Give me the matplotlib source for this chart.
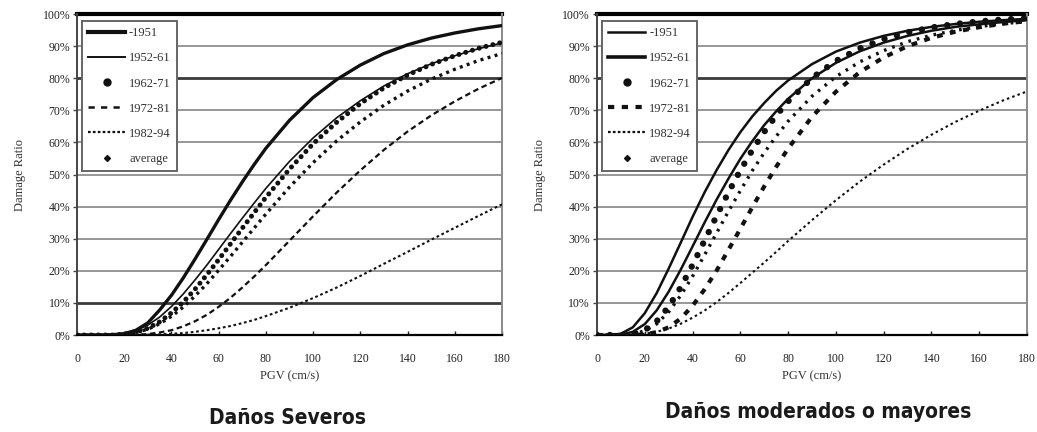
import matplotlib
matplotlib.use("Agg")
import matplotlib.pyplot as plt
from matplotlib.lines import Line2D
from matplotlib.ticker import FuncFormatter, MultipleLocator

# PGV (cm/s) at which the fragility curves are sampled
pgv = [0, 5, 10, 15, 20, 25, 30, 35, 40, 45, 50, 55, 60, 65, 70, 75, 80,
       90, 100, 110, 120, 130, 140, 150, 160, 170, 180]

# Damage ratio (%) - severe damage
sev_1951 = [0, 0, 0, 0.1, 0.4, 1.5, 3.8, 7.8, 12.4, 17.8, 23.7, 29.8, 36.0, 42.0, 47.7, 53.1, 58.2,
            66.9, 74.0, 79.6, 84.1, 87.7, 90.4, 92.5, 94.1, 95.4, 96.4]
sev_1952_61 = [0, 0, 0, 0.1, 0.5, 1.4, 3.1, 5.6, 8.9, 12.8, 17.2, 21.8, 26.7, 31.6, 36.4, 41.1, 45.7,
               54.1, 61.4, 67.7, 73.0, 77.6, 81.4, 84.5, 87.0, 89.2, 91.0]
sev_1962_71 = [0, 0, 0, 0, 0.3, 0.9, 2.1, 4.1, 6.9, 10.3, 14.3, 18.8, 23.5, 28.4, 33.3, 38.1, 42.9,
               51.7, 59.6, 66.3, 72.1, 77.0, 81.0, 84.3, 87.0, 89.3, 91.2]
sev_1972_81 = [0, 0, 0, 0, 0, 0.1, 0.3, 0.8, 1.5, 2.7, 4.3, 6.3, 8.8, 11.6, 14.8, 18.2, 21.8,
               29.4, 37.0, 44.4, 51.3, 57.7, 63.4, 68.4, 72.8, 76.7, 80.1]
sev_1982_94 = [0, 0, 0, 0, 0, 0, 0.1, 0.2, 0.4, 0.6, 1.0, 1.5, 2.1, 2.8, 3.7, 4.7, 5.9,
               8.5, 11.5, 14.8, 18.4, 22.2, 25.9, 29.7, 33.4, 37.1, 40.7]
sev_average = [0, 0, 0, 0, 0.2, 0.8, 1.8, 3.5, 5.8, 8.7, 12.2, 16.0, 20.2, 24.5, 28.9, 33.3, 37.7,
               46.1, 53.7, 60.5, 66.4, 71.6, 76.0, 79.7, 82.8, 85.5, 87.7]

# Damage ratio (%) - moderate or greater damage
mod_1951 = [0, 0, 0.4, 2.4, 6.8, 13.1, 20.7, 28.7, 36.8, 44.4, 51.3, 57.6, 63.2, 68.1, 72.3, 76.1, 79.3,
            84.4, 88.3, 91.1, 93.2, 94.8, 96.0, 96.9, 97.6, 98.1, 98.5]
mod_1952_61 = [0, 0, 0.1, 1.0, 3.4, 7.7, 13.5, 20.3, 27.6, 35.0, 42.1, 48.7, 54.9, 60.4, 65.4, 69.7, 73.6,
               80.0, 84.8, 88.4, 91.1, 93.2, 94.8, 96.0, 96.8, 97.5, 98.1]
mod_1962_71 = [0, 0, 0, 0.3, 1.5, 4.3, 8.8, 14.8, 21.8, 29.4, 37.0, 44.4, 51.3, 57.6, 63.3, 68.4, 72.8,
               80.1, 85.4, 89.3, 92.2, 94.3, 95.8, 96.9, 97.7, 98.3, 98.7]
mod_1972_81 = [0, 0, 0, 0, 0.2, 0.9, 2.4, 5.1, 9.1, 14.2, 20.0, 26.5, 33.1, 39.8, 46.3, 52.4, 58.1,
               68.0, 75.8, 81.9, 86.5, 90.0, 92.6, 94.5, 95.9, 97.0, 97.8]
mod_1982_94 = [0, 0, 0, 0.1, 0.4, 1.0, 2.0, 3.5, 5.4, 7.6, 10.2, 13.1, 16.2, 19.4, 22.6, 25.9, 29.3,
               35.8, 42.0, 47.8, 53.1, 58.0, 62.4, 66.4, 69.9, 73.1, 75.9]
mod_average = [0, 0, 0, 0.3, 1.3, 3.5, 7.2, 12.3, 18.3, 24.9, 31.7, 38.5, 45.0, 51.2, 56.8, 61.9, 66.6,
               74.4, 80.5, 85.1, 88.6, 91.4, 93.4, 94.9, 96.1, 97.0, 97.7]

series_labels = ["-1951", "1952-61", "1962-71", "1972-81", "1982-94", "average"]
panel_titles = ["Daños Severos", "Daños moderados o mayores"]
x_label = "PGV (cm/s)"
y_label = "Damage Ratio"

SERIF = ["Liberation Serif", "DejaVu Serif"]
INK = "#111111"

# drawing styles per panel: (linewidth, dash pattern)
styles_left = [
    dict(lw=2.4, ls="-"),
    dict(lw=1.2, ls="-"),
    dict(lw=3.6, ls=(0, (0.01, 1.4)), dash_capstyle="round"),
    dict(lw=1.6, ls=(0, (2.5, 1.6))),
    dict(lw=1.5, ls=(0, (1.3, 1.3))),
    dict(lw=2.4, ls=(0, (0.9, 1.3))),
]
styles_right = [
    dict(lw=1.8, ls="-"),
    dict(lw=1.8, ls="-"),
    dict(lw=4.6, ls=(0, (0.01, 2.0)), dash_capstyle="round"),
    dict(lw=3.0, ls=(0, (1.4, 1.8))),
    dict(lw=1.5, ls=(0, (1.2, 1.5))),
    dict(lw=2.4, ls=(0, (0.8, 1.8))),
]


def legend_handles(right):
    lw_a, lw_b = (1.8, 2.6) if right else (3.0, 1.4)
    dash_lw = 3.0 if right else 1.8
    return [
        Line2D([], [], color=INK, lw=lw_a),
        Line2D([], [], color=INK, lw=lw_b),
        Line2D([], [], color=INK, ls="none", marker="o", ms=5),
        Line2D([], [], color=INK, lw=dash_lw, ls=(0, (2.5, 2.5)) if not right else (0, (1.5, 1.8))),
        Line2D([], [], color=INK, lw=1.6, ls=(0, (1.2, 1.0))),
        Line2D([], [], color=INK, ls="none", marker="D", ms=3),
    ]


def draw_panel(ax, data, styles, thick_levels, right):
    for level in range(10, 100, 10):
        if level in thick_levels:
            ax.axhline(level, color="#3a3a3a", lw=2.0, zorder=1)
        else:
            ax.axhline(level, color="#7a7a7a", lw=1.1, zorder=1)
    ax.axhline(100, color="black", lw=3.0, zorder=1, clip_on=False)

    for values, st in zip(data, styles):
        ax.plot(pgv, values, color=INK, zorder=3, solid_capstyle="butt", **st)

    ax.set_xlim(0, 180)
    ax.set_ylim(0, 100)
    ax.xaxis.set_major_locator(MultipleLocator(20))
    ax.yaxis.set_major_locator(MultipleLocator(10))
    ax.yaxis.set_major_formatter(FuncFormatter(lambda v, p: f"{int(v)}%"))
    ax.tick_params(axis="x", direction="in", length=3, width=1, colors="#222222",
                   labelsize=8.5, pad=13)
    ax.tick_params(axis="y", direction="out", length=3, width=1, colors="#444444",
                   labelsize=8.5, pad=2)
    for lab in ax.get_xticklabels() + ax.get_yticklabels():
        lab.set_family(SERIF)
        lab.set_color("#222222")

    ax.spines["top"].set_visible(False)
    ax.spines["bottom"].set_color("black")
    ax.spines["bottom"].set_linewidth(1.6)
    ax.spines["left"].set_color("#444444")
    ax.spines["left"].set_linewidth(1.4)
    ax.spines["right"].set_color("#8a8a8a")
    ax.spines["right"].set_linewidth(1.4)

    ax.set_xlabel(x_label, family=SERIF, fontsize=9, color="#333333", labelpad=4)
    ax.set_ylabel(y_label, family=SERIF, fontsize=9, color="#333333", labelpad=12)

    leg = ax.legend(legend_handles(right), series_labels, loc="upper left",
                    bbox_to_anchor=(0.012, 0.978), borderaxespad=0,
                    prop=dict(family=SERIF, size=9), frameon=True, fancybox=False,
                    edgecolor="#666666", framealpha=1.0, handlelength=2.95,
                    handletextpad=0.3, labelspacing=1.05, borderpad=0.5)
    leg.get_frame().set_linewidth(1.4)
    for t in leg.get_texts():
        t.set_color("#333333")
    leg.set_zorder(5)


fig = plt.figure(figsize=(10.37, 4.32), dpi=100)
ax_left = fig.add_axes([0.0743, 0.2245, 0.4098, 0.743])
ax_right = fig.add_axes([0.5757, 0.2245, 0.4147, 0.743])

draw_panel(ax_left,
           [sev_1951, sev_1952_61, sev_1962_71, sev_1972_81, sev_1982_94, sev_average],
           styles_left, thick_levels=(10, 80), right=False)
draw_panel(ax_right,
           [mod_1951, mod_1952_61, mod_1962_71, mod_1972_81, mod_1982_94, mod_average],
           styles_right, thick_levels=(80,), right=True)

fig.text(0.2777, 0.033, panel_titles[0], ha="center", va="center",
         family="DejaVu Sans", stretch="condensed", weight="bold", fontsize=15,
         color="#1a1a1a")
fig.text(0.789, 0.047, panel_titles[1], ha="center", va="center",
         family="DejaVu Sans", stretch="condensed", weight="bold", fontsize=15,
         color="#1a1a1a")

fig.savefig("out.png", dpi=100, facecolor="white")
